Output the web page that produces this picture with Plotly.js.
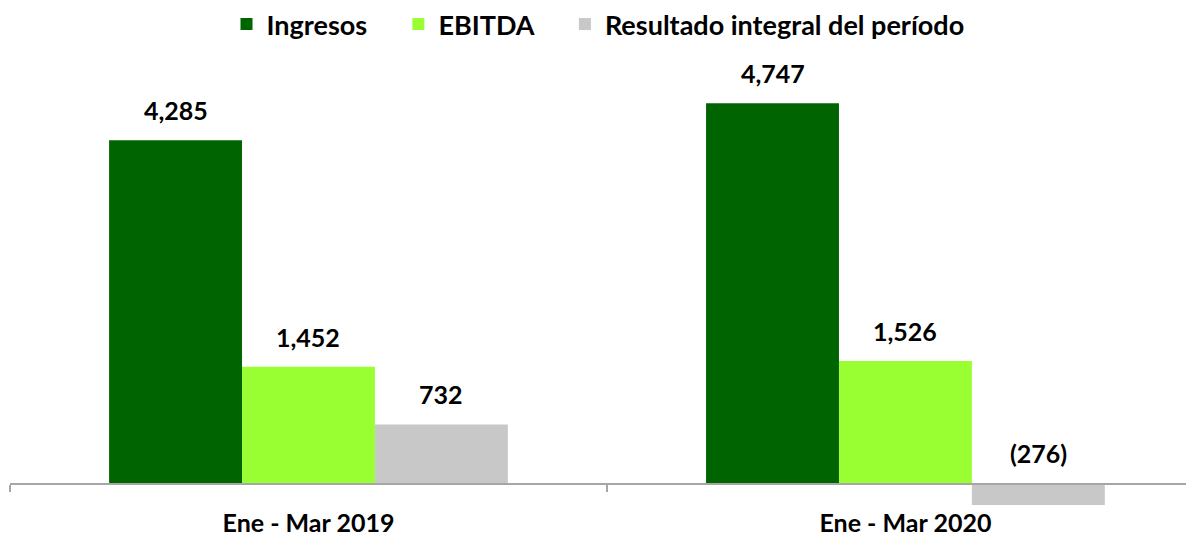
<!DOCTYPE html>
<html>
<head>
<meta charset="utf-8">
<script src="https://cdn.plot.ly/plotly-3.0.1.min.js"></script>
<style>html,body{margin:0;padding:0;background:#fff;}#chart{width:1186px;height:536px;}</style>
</head>
<body>
<div id="chart"></div>
<script>
const categories = ["Ene - Mar 2019", "Ene - Mar 2020"];
const seriesNames = ["Ingresos", "EBITDA", "Resultado integral del período"];
const ingresos = [4285, 4747];
const ebitda = [1452, 1526];
const resultado = [732, -276];

const allSeries = [ingresos, ebitda, resultado];
const colors = ["#006400", "#99ff33", "#c8c8c8"];
const FONT = "Lato, 'Open Sans', sans-serif";

const bargap = 0.332;
const barW = (1 - bargap) / 3;
const PAD = "\u00a0\u00a0\u00a0\u00a0";

const traces = allSeries.map((vals, i) => ({
  type: "bar",
  name: seriesNames[i] + (i < 2 ? PAD : ""),
  x: categories,
  y: vals,
  marker: {color: colors[i], line: {width: 0}},
  hoverinfo: "skip"
}));

function fmt(v) {
  const s = Math.abs(v).toLocaleString("en-US");
  return v < 0 ? "(" + s + ")" : s;
}

const annotations = [];
allSeries.forEach((vals, i) => {
  vals.forEach((v, c) => {
    annotations.push({
      xref: "x", yref: "y",
      x: c + (i - 1) * barW,
      y: Math.max(v, 0),
      text: "<b>" + fmt(v) + "</b>",
      showarrow: false,
      yanchor: "bottom",
      yshift: 13,
      font: {family: FONT, size: 25, color: "#000"}
    });
  });
});

const layout = {
  width: 1186, height: 536,
  margin: {l: 10, r: 0, t: 83, b: 29},
  paper_bgcolor: "#fff", plot_bgcolor: "#fff",
  barmode: "group",
  bargap: bargap, bargroupgap: 0,
  showlegend: true,
  legend: {
    orientation: "h", x: 0.5, xanchor: "center",
    yref: "container", y: 1, yanchor: "top",
    font: {family: FONT, size: 27, color: "#000", weight: "bold"},
    traceorder: "normal"
  },
  xaxis: {
    type: "category",
    range: [-0.5, 1.47],
    ticktext: categories.map(c => "<b>" + c + "</b>"),
    tickvals: categories,
    tickson: "boundaries",
    ticks: "outside", ticklen: 7, tickcolor: "#a6a6a6", tickwidth: 1.5,
    showline: true, linecolor: "#a6a6a6", linewidth: 1.5,
    anchor: "free", position: 300 / 5300,
    ticklabelstandoff: 17,
    tickfont: {family: FONT, size: 25, color: "#000"},
    showgrid: false, zeroline: false, fixedrange: true
  },
  yaxis: {
    range: [-300, 5000],
    visible: false, showgrid: false, zeroline: false, fixedrange: true
  },
  annotations: annotations
};

Plotly.newPlot("chart", traces, layout, {displayModeBar: false, staticPlot: true});
</script>
</body>
</html>
